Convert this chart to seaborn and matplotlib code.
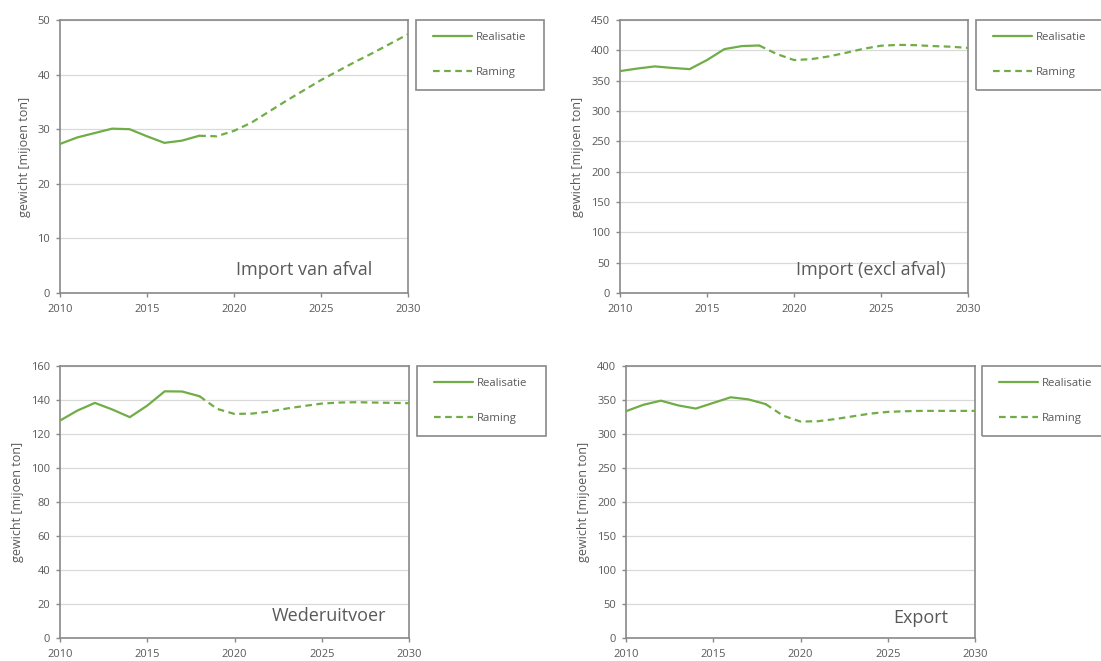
import numpy as np
import pandas as pd
import seaborn as sns
import matplotlib
matplotlib.use("Agg")
import matplotlib.pyplot as plt
from matplotlib.patches import Rectangle
from matplotlib.lines import Line2D

# ---- data -------------------------------------------------------------
jaren_realisatie = list(range(2010, 2019))
jaren_raming = list(range(2018, 2031))

afval_realisatie = [27.3, 28.5, 29.3, 30.1, 30.0, 28.7, 27.5, 27.9, 28.8]
afval_raming = [28.8, 28.7, 29.7, 31.2, 33.2, 35.2, 37.1, 39.0, 40.7, 42.4, 44.0, 45.7, 47.4]

import_realisatie = [365.8, 370.0, 373.5, 371.0, 369.0, 384.0, 402.0, 407.0, 408.0]
import_raming = [408.0, 394.0, 384.0, 385.5, 390.0, 396.0, 402.6, 407.6, 409.0, 408.5, 407.0, 406.0, 404.0]

weder_realisatie = [127.9, 133.8, 138.3, 134.4, 129.9, 136.7, 145.1, 145.0, 142.2]
weder_raming = [142.2, 134.8, 131.8, 132.0, 133.2, 135.0, 136.5, 137.9, 138.5, 138.7, 138.5, 138.3, 138.1]

export_realisatie = [333.5, 343.0, 349.0, 342.0, 337.4, 345.7, 354.0, 351.0, 344.0]
export_raming = [344.0, 327.0, 318.3, 318.8, 322.0, 326.0, 330.0, 332.5, 333.5, 334.0, 334.0, 334.0, 334.0]

titels = ["Import van afval", "Import (excl afval)", "Wederuitvoer", "Export"]
reeksen = ["Realisatie", "Raming"]
y_label = "gewicht [mijoen ton]"
x_ticks = [2010, 2015, 2020, 2025, 2030]

# ---- styling ----------------------------------------------------------
sns.set_style("white")
plt.rcParams["font.family"] = ["Open Sans", "DejaVu Sans"]

GROEN = "#70AD47"
GRIJS_AS = "#898989"
GRIJS_RASTER = "#D9D9D9"
TEKST = "#595959"
FS_TICK = 8
FS_LABEL = 9
FS_LEGEND = 8.2
FS_TITEL = 13

W, H = 1101, 661
fig = plt.figure(figsize=(W / 100, H / 100), dpi=100)


def px_rect(left, right, top, bottom):
    return [left / W, 1 - bottom / H, (right - left) / W, (bottom - top) / H]


panelen = [
    dict(rect=(60, 408, 20, 293), ymax=50, ystep=10,
         real=afval_realisatie, ram=afval_raming,
         box=(416, 20, 544, 90), tx=0.897, ty=0.085),
    dict(rect=(620, 968, 20, 293), ymax=450, ystep=50,
         real=import_realisatie, ram=import_raming,
         box=(976, 20, 1112, 90), tx=0.935, ty=0.083),
    dict(rect=(60, 409, 366, 638), ymax=160, ystep=20,
         real=weder_realisatie, ram=weder_raming,
         box=(417, 366, 546, 436), tx=0.934, ty=0.08),
    dict(rect=(626, 975, 366, 638), ymax=400, ystep=50,
         real=export_realisatie, ram=export_raming,
         box=(982, 366, 1112, 436), tx=0.923, ty=0.075),
]

for titel, p in zip(titels, panelen):
    ax = fig.add_axes(px_rect(*p["rect"]))
    df = pd.concat([
        pd.DataFrame({"jaar": jaren_realisatie, "waarde": p["real"], "reeks": reeksen[0]}),
        pd.DataFrame({"jaar": jaren_raming, "waarde": p["ram"], "reeks": reeksen[1]}),
    ], ignore_index=True)
    sns.lineplot(data=df, x="jaar", y="waarde", style="reeks",
                 dashes={reeksen[0]: "", reeksen[1]: (3, 2)},
                 color=GROEN, linewidth=1.6, legend=False, ax=ax,
                 zorder=3)

    ax.set_xlim(2010, 2030)
    ax.set_ylim(0, p["ymax"])
    ax.set_xticks(x_ticks)
    ax.set_yticks(np.arange(0, p["ymax"] + 1, p["ystep"]))
    ax.yaxis.grid(True, color=GRIJS_RASTER, linewidth=0.9)
    ax.xaxis.grid(False)
    ax.set_axisbelow(True)
    for sp in ax.spines.values():
        sp.set_color(GRIJS_AS)
        sp.set_linewidth(1.2)
        sp.set_visible(True)
    ax.tick_params(axis="both", which="major", direction="out", length=3,
                   width=1.0, color=GRIJS_AS, labelsize=FS_TICK, labelcolor=TEKST,
                   bottom=True, left=True)
    ax.tick_params(axis="y", pad=4)
    ax.tick_params(axis="x", pad=5)
    ax.set_xlabel("")
    ax.set_ylabel(y_label, fontsize=FS_LABEL, color=TEKST, labelpad=5)

    ax.text(p["tx"], p["ty"], titel, transform=ax.transAxes, ha="right",
            va="center", fontsize=FS_TITEL, color=TEKST)

    # legend frame and entries
    bx0, by0, bx1, by1 = p["box"]
    fig.add_artist(Rectangle((bx0 / W, 1 - by1 / H), (bx1 - bx0) / W, (by1 - by0) / H,
                             transform=fig.transFigure, fill=False,
                             edgecolor=GRIJS_AS, linewidth=1.2))
    handles = [Line2D([], [], color=GROEN, linewidth=1.6),
               Line2D([], [], color=GROEN, linewidth=1.6, linestyle=(0, (3, 2)))]
    ax.legend(handles, reeksen, loc="center left",
              bbox_to_anchor=((bx0 + 17) / W, 1 - (by0 + 35) / H),
              bbox_transform=fig.transFigure, frameon=False, fontsize=FS_LEGEND,
              labelcolor=TEKST, borderpad=0, borderaxespad=0,
              handlelength=3.4, handletextpad=0.4, labelspacing=2.15)

fig.savefig("out.png", dpi=100)
